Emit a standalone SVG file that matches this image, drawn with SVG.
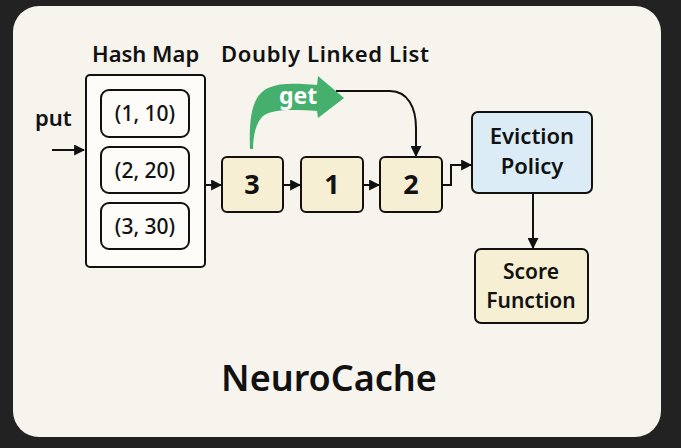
<svg xmlns="http://www.w3.org/2000/svg" width="681" height="448" viewBox="0 0 681 448">
<defs>
<style>
text{font-family:"Noto Sans","Open Sans","DejaVu Sans",sans-serif;fill:#111;}
.lbl{font-size:22px;font-weight:600;}
.pair{font-size:21px;font-weight:500;text-anchor:middle;}
.num{font-size:27px;font-weight:700;text-anchor:middle;}
.box{font-size:22px;font-weight:600;text-anchor:middle;}
.box2{font-size:21px;font-weight:600;text-anchor:middle;}
.node{fill:#f7efd3;stroke:#111;stroke-width:2;}
.pbox{fill:#fdfcf8;stroke:#111;stroke-width:2;}
.conn{fill:none;stroke:#111;stroke-width:2;}
</style>
<marker id="ah" viewBox="0 0 10 10" refX="9" refY="5" markerWidth="5.5" markerHeight="5.5" orient="auto" markerUnits="strokeWidth">
<path d="M0,0 L10,5 L0,10 z" fill="#111"/>
</marker>
</defs>
<rect x="0" y="0" width="681" height="448" fill="#222222"/>
<rect x="13" y="6" width="648" height="431" rx="26" fill="#f6f4ec"/>

<text class="lbl" x="92" y="62">Hash Map</text>
<text class="lbl" x="221" y="62" textLength="208" lengthAdjust="spacing">Doubly Linked List</text>
<text class="lbl" x="35" y="126">put</text>

<g id="hashmap">
<rect class="pbox" x="86" y="75" width="119" height="192" rx="4"/>
<g id="kv1"><rect class="pbox" x="101" y="90" width="88" height="47" rx="8"/><text class="pair" x="145" y="121">(1, 10)</text></g>
<g id="kv2"><rect class="pbox" x="101" y="147" width="88" height="46" rx="8"/><text class="pair" x="145" y="178">(2, 20)</text></g>
<g id="kv3"><rect class="pbox" x="101" y="203" width="88" height="46" rx="8"/><text class="pair" x="145" y="234">(3, 30)</text></g>
</g>

<g id="n3"><rect class="node" x="222" y="157" width="61" height="55" rx="5"/><text class="num" x="252" y="194">3</text></g>
<g id="n1"><rect class="node" x="301" y="157" width="62" height="55" rx="5"/><text class="num" x="332" y="194">1</text></g>
<g id="n2"><rect class="node" x="380" y="157" width="62" height="55" rx="5"/><text class="num" x="411" y="194">2</text></g>

<g id="eviction"><rect x="472" y="112" width="120" height="81" rx="6" fill="#dcecf7" stroke="#111" stroke-width="2"/>
<text class="box" x="532" y="144">Eviction</text><text class="box" x="532" y="174">Policy</text></g>

<g id="score"><rect class="node" x="475" y="249" width="113" height="74" rx="6"/>
<text class="box2" x="531" y="279">Score</text><text class="box2" x="531" y="308">Function</text></g>

<g id="get">
<path d="M250,149 C249,120 251,96 268,88 C282,82 300,84 317,85 L318,76 L344,98 L318,118 L317,111 C295,110 272,108 262,117 C255,125 253,138 253,149 Z" fill="#45b06e"/>
<text x="298" y="104" font-size="23" font-weight="700" text-anchor="middle" style="fill:#fff">get</text>
</g>

<g id="connectors">
<line class="conn" x1="52" y1="150" x2="84" y2="150" marker-end="url(#ah)"/>
<line class="conn" x1="205" y1="185" x2="221" y2="185" marker-end="url(#ah)"/>
<line class="conn" x1="283" y1="185" x2="300" y2="185" marker-end="url(#ah)"/>
<line class="conn" x1="363" y1="185" x2="379" y2="185" marker-end="url(#ah)"/>
<path class="conn" d="M442,185 L451,185 L451,165 L471,165" marker-end="url(#ah)"/>
<path class="conn" d="M336,91 L390,91 C408,91 416,108 416,128 L416,156" marker-end="url(#ah)"/>
<line class="conn" x1="533" y1="193" x2="533" y2="248" marker-end="url(#ah)"/>
</g>

<text x="329" y="391" font-size="36" font-weight="600" text-anchor="middle">NeuroCache</text>
</svg>
